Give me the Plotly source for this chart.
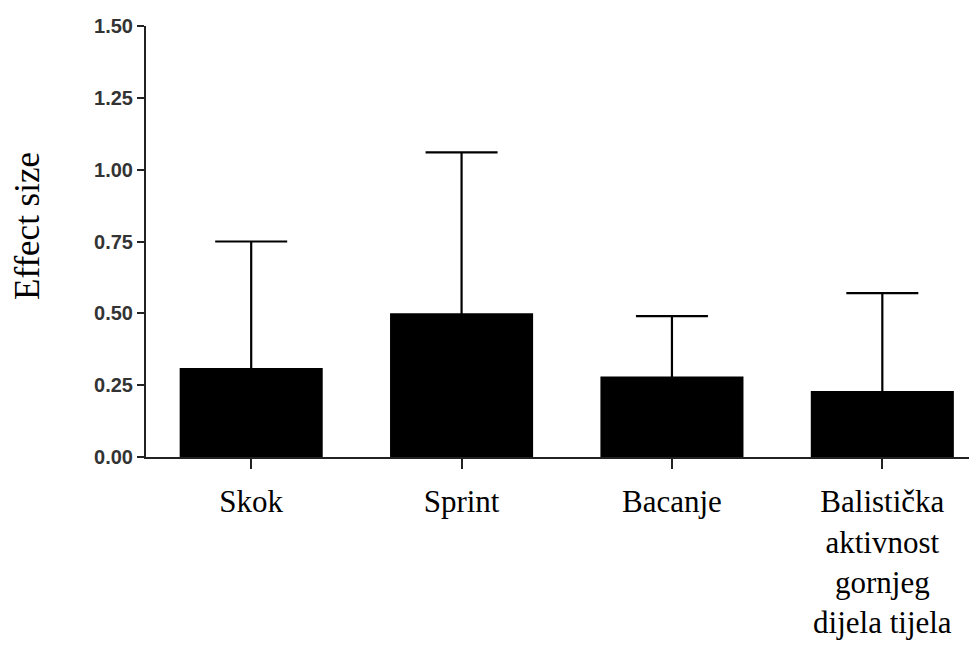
import plotly.graph_objects as go

categories = ["Skok", "Sprint", "Bacanje", "Balistička aktivnost gornjeg dijela tijela"]
tick_lines = [["Skok"], ["Sprint"], ["Bacanje"], ["Balistička", "aktivnost", "gornjeg", "dijela tijela"]]
effect = [0.31, 0.50, 0.28, 0.23]
upper = [0.75, 1.06, 0.49, 0.57]
y_ticks = [0.00, 0.25, 0.50, 0.75, 1.00, 1.25, 1.50]

err_plus = [u - v for u, v in zip(upper, effect)]
err_minus = [0.01] * len(effect)  # keeps lower cap hidden inside the bar
xpos = list(range(len(categories)))

SERIF = "Liberation Serif"
span = '<span style="font-family:\'Liberation Serif\',serif">{}</span>'
tick_text = ["<br>".join(span.format(s) for s in lines) for lines in tick_lines]

fig = go.Figure()
fig.add_trace(go.Bar(
    x=xpos,
    y=effect,
    marker=dict(color="black", line=dict(width=0)),
    width=0.68,
    error_y=dict(type="data", symmetric=False, array=err_plus, arrayminus=err_minus,
                 color="black", thickness=2.2, width=36),
    showlegend=False,
))

fig.update_layout(
    width=969, height=638,
    margin=dict(l=138, r=0, t=18, b=189, autoexpand=False),
    plot_bgcolor="white", paper_bgcolor="white",
    font=dict(family=SERIF, size=30, color="black"),
    xaxis=dict(
        range=[-0.5, 3.45],
        tickmode="array", tickvals=xpos, ticktext=tick_text,
        ticks="outside", ticklen=10, tickwidth=2, tickcolor="#222",
        showline=True, linecolor="#222", linewidth=2,
        showgrid=False, zeroline=False,
        tickfont=dict(family=SERIF, size=31, color="black"),
        ticklabelstandoff=6,
        automargin=False,
    ),
    yaxis=dict(
        range=[0, 1.5],
        tickmode="array", tickvals=y_ticks, ticktext=[f"{v:.2f}" for v in y_ticks],
        ticks="outside", ticklen=7, tickwidth=2, tickcolor="#222",
        showline=True, linecolor="#222", linewidth=2,
        showgrid=False, zeroline=False,
        tickfont=dict(family="Liberation Sans", size=20, color="#333", weight="bold"),
        automargin=False,
    ),
    annotations=[dict(
        text="Effect size", textangle=-90,
        xref="paper", yref="paper", x=-0.1425, y=0.535,
        xanchor="center", yanchor="middle", showarrow=False,
        font=dict(family=SERIF, size=35, color="black"),
    )],
)

fig.write_html("out.html")
